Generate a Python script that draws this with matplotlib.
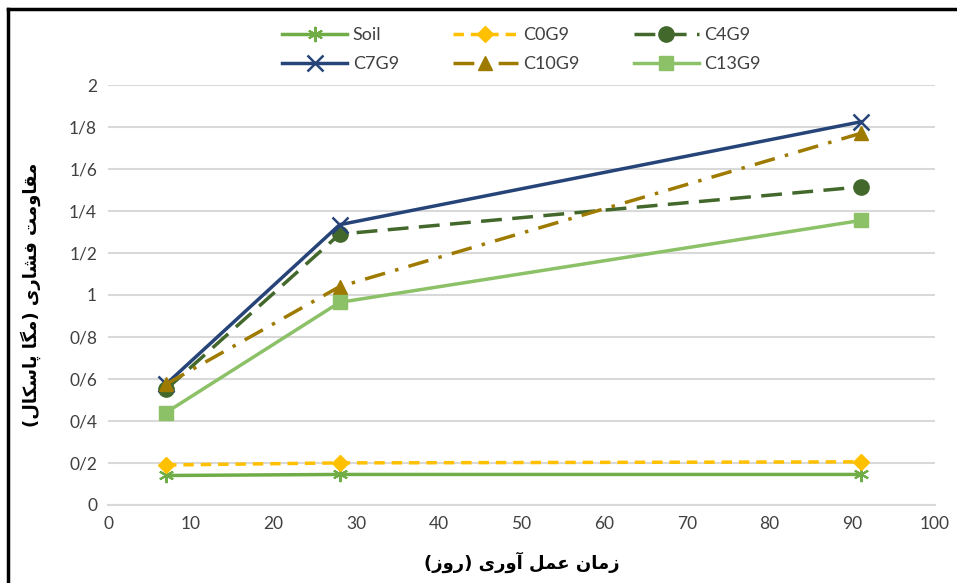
import matplotlib.pyplot as plt
from matplotlib.lines import Line2D

# curing days
days = [7, 28, 91]

soil = [0.14, 0.145, 0.145]
c0g9 = [0.19, 0.20, 0.205]
c4g9 = [0.55, 1.29, 1.515]
c7g9 = [0.575, 1.335, 1.825]
c10g9 = [0.575, 1.04, 1.77]
c13g9 = [0.44, 0.965, 1.355]

y_ticks = [0, 0.2, 0.4, 0.6, 0.8, 1, 1.2, 1.4, 1.6, 1.8, 2]
y_tick_labels = ['0', '0/2', '0/4', '0/6', '0/8', '1', '1/2', '1/4', '1/6', '1/8', '2']
x_ticks = [0, 10, 20, 30, 40, 50, 60, 70, 80, 90, 100]

y_title = 'مقاومت فشاری (مگا پاسکال)'
x_title = 'زمان عمل آوری (روز)'

# presentation forms: isolated, final, initial, medial
FORMS = {
    'ا': ('\uFE8D', '\uFE8E', None, None),
    'آ': ('\uFE81', '\uFE82', None, None),
    'و': ('\uFEED', '\uFEEE', None, None),
    'ر': ('\uFEAD', '\uFEAE', None, None),
    'ز': ('\uFEAF', '\uFEB0', None, None),
    'م': ('\uFEE1', '\uFEE2', '\uFEE3', '\uFEE4'),
    'ق': ('\uFED5', '\uFED6', '\uFED7', '\uFED8'),
    'ت': ('\uFE95', '\uFE96', '\uFE97', '\uFE98'),
    'ف': ('\uFED1', '\uFED2', '\uFED3', '\uFED4'),
    'ش': ('\uFEB5', '\uFEB6', '\uFEB7', '\uFEB8'),
    'ی': ('\uFEEF', '\uFEF0', '\uFBFE', '\uFBFF'),
    'گ': ('\uFB92', '\uFB93', '\uFB94', '\uFB95'),
    'پ': ('\uFB56', '\uFB57', '\uFB58', '\uFB59'),
    'س': ('\uFEB1', '\uFEB2', '\uFEB3', '\uFEB4'),
    'ک': ('\uFB8E', '\uFB8F', '\uFB90', '\uFB91'),
    'ل': ('\uFEDD', '\uFEDE', '\uFEDF', '\uFEE0'),
    'ن': ('\uFEE5', '\uFEE6', '\uFEE7', '\uFEE8'),
    'ع': ('\uFEC9', '\uFECA', '\uFECB', '\uFECC'),
}


def shape(text):
    """Persian letters joined and put in visual (left to right) order"""
    out = []
    for i, ch in enumerate(text):
        if ch not in FORMS:
            out.append(ch)
            continue
        prev = text[i - 1] if i > 0 else ''
        nxt = text[i + 1] if i + 1 < len(text) else ''
        from_prev = prev in FORMS and FORMS[prev][2] is not None
        to_next = nxt in FORMS and FORMS[ch][2] is not None
        iso, fin, ini, med = FORMS[ch]
        if from_prev and to_next:
            out.append(med)
        elif from_prev:
            out.append(fin)
        elif to_next:
            out.append(ini)
        else:
            out.append(iso)
    mirror = {'(': ')', ')': '('}
    return ''.join(mirror.get(c, c) for c in reversed(out))


plt.rcParams['font.family'] = ['Lato', 'DejaVu Sans']

fig = plt.figure(figsize=(9.57, 5.83), dpi=100)
ax = fig.add_axes([0.113, 0.134, 0.864, 0.72])

l_soil, = ax.plot(days, soil, color='#70AD47', lw=2.5, marker=(6, 2, 0), ms=11, mew=1.5, label='Soil')
l_c0, = ax.plot(days, c0g9, color='#FFC000', lw=2.5, ls=(0, (3, 2)), marker='D', ms=8, label='C0G9')
l_c4, = ax.plot(days, c4g9, color='#43682B', lw=2.5, ls=(0, (6, 3)), marker='o', ms=11, label='C4G9')
l_c7, = ax.plot(days, c7g9, color='#264478', lw=2.5, marker='x', ms=11, mew=1.8, label='C7G9')
l_c10, = ax.plot(days, c10g9, color='#9E7B00', lw=2.5, ls=(0, (6, 3, 1, 3)), marker='^', ms=10, label='C10G9')
l_c13, = ax.plot(days, c13g9, color='#8CC168', lw=2.5, marker='s', ms=10, label='C13G9')

ax.set_xlim(0, 100)
ax.set_ylim(0, 2)
ax.set_xticks(x_ticks)
ax.set_yticks(y_ticks)
ax.set_yticklabels(y_tick_labels)
ax.tick_params(length=0, labelsize=12.5, colors='#404040', pad=8)
ax.grid(axis='y', color='#D9D9D9', lw=1.5)
ax.set_axisbelow(True)
for s in ['top', 'right', 'left']:
    ax.spines[s].set_visible(False)
ax.spines['bottom'].set_color('#D9D9D9')
ax.spines['bottom'].set_linewidth(1.5)

ax.set_xlabel(shape(x_title), family='DejaVu Sans', fontsize=13, fontweight='bold', labelpad=14)
ax.set_ylabel(shape(y_title), family='DejaVu Sans', fontsize=13, fontweight='bold', labelpad=20)

# matplotlib fills legend columns first, so order handles to read row by row
handles = [l_soil, l_c7, l_c0, l_c10, l_c4, l_c13]
ax.legend(handles=handles, loc='lower center', bbox_to_anchor=(0.50, 1.0), ncol=3, frameon=False,
          fontsize=13, handlelength=3.6, columnspacing=3.0, labelcolor='#404040',
          handletextpad=0.3, labelspacing=0.75, borderaxespad=0.3)

# outer frame of the pasted chart
fig.add_artist(Line2D([8 / 957, 8 / 957], [0, 1 - 9 / 583], color='black', lw=2.5,
                      transform=fig.transFigure))
fig.add_artist(Line2D([8 / 957, 1], [1 - 9 / 583, 1 - 9 / 583], color='black', lw=2.5,
                      transform=fig.transFigure))

fig.savefig('out.png', dpi=100)
